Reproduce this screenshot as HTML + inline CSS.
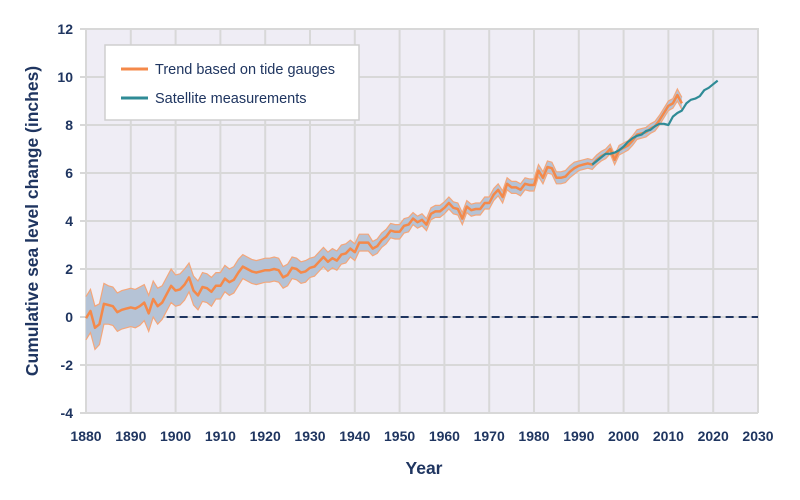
<!DOCTYPE html>
<html><head><meta charset="utf-8"><style>
body{margin:0;background:#fff;}
svg{display:block;font-family:"Liberation Sans",sans-serif;}
.tk{font-size:14px;font-weight:bold;fill:#1f3560;}
</style></head><body>
<svg id="chart" width="800" height="500" viewBox="0 0 800 500" xmlns="http://www.w3.org/2000/svg">
<rect x="86" y="28" width="672" height="385" fill="#efedf5"/>
<g id="grid"></g>
<g id="band"></g>
<line id="zero" stroke="#1f3560" stroke-width="2" stroke-dasharray="8,5"/>
<g id="series"></g>
<g id="ticks"></g>
<text transform="translate(38,221) rotate(-90)" text-anchor="middle" font-size="17.5" font-weight="bold" fill="#1f3560">Cumulative sea level change (inches)</text>
<text x="424" y="474" text-anchor="middle" font-size="17.5" font-weight="bold" fill="#1f3560">Year</text>
<g>
<rect x="105" y="45" width="254" height="75" fill="#fff" stroke="#cfcfcf" stroke-width="1.5"/>
<line x1="121" y1="69" x2="148" y2="69" stroke="#f4894a" stroke-width="3"/>
<text x="155" y="74" font-size="14.5" fill="#1f3560">Trend based on tide gauges</text>
<line x1="121" y1="98" x2="148" y2="98" stroke="#2f8b96" stroke-width="3"/>
<text x="155" y="103" font-size="14.5" fill="#1f3560">Satellite measurements</text>
</g>
</svg>
<script>
const tideStart = 1880;
const tideValues = [-0.05,0.25,-0.45,-0.3,0.55,0.5,0.45,0.2,0.3,0.35,0.4,0.35,0.45,0.6,0.15,0.75,0.45,0.6,0.95,1.3,1.1,1.15,1.35,1.65,1.1,0.9,1.25,1.2,1.05,1.3,1.3,1.6,1.45,1.55,1.85,2.1,2.0,1.9,1.85,1.9,1.95,1.95,2.0,1.95,1.65,1.75,2.05,2.0,1.85,1.9,2.05,2.1,2.3,2.5,2.3,2.45,2.35,2.6,2.65,2.85,2.7,3.1,3.1,3.1,2.85,2.95,3.2,3.35,3.6,3.55,3.55,3.8,3.85,4.1,3.95,4.05,3.85,4.3,4.4,4.4,4.55,4.75,4.55,4.5,4.1,4.6,4.45,4.5,4.5,4.75,4.75,5.1,5.3,5.0,5.55,5.4,5.4,5.3,5.55,5.5,5.5,6.1,5.8,6.25,6.2,5.8,5.8,5.85,6.05,6.2,6.3,6.35,6.4,6.35,6.55,6.7,6.8,7.0,6.55,6.95,7.05,7.15,7.35,7.6,7.65,7.7,7.85,7.95,8.2,8.5,8.8,8.9,9.25,8.9];
const tideUncertainty = [0.9,0.9,0.9,0.85,0.85,0.8,0.8,0.8,0.8,0.8,0.8,0.8,0.8,0.75,0.75,0.75,0.75,0.7,0.7,0.7,0.65,0.65,0.65,0.6,0.6,0.6,0.6,0.6,0.6,0.55,0.55,0.55,0.55,0.55,0.55,0.5,0.5,0.5,0.5,0.5,0.5,0.5,0.5,0.5,0.45,0.45,0.45,0.45,0.45,0.45,0.4,0.4,0.4,0.4,0.4,0.4,0.4,0.4,0.4,0.35,0.35,0.35,0.35,0.35,0.3,0.3,0.3,0.3,0.3,0.3,0.3,0.3,0.3,0.25,0.25,0.25,0.25,0.25,0.25,0.25,0.25,0.25,0.25,0.25,0.25,0.25,0.25,0.25,0.25,0.25,0.25,0.25,0.25,0.25,0.25,0.25,0.25,0.25,0.25,0.25,0.25,0.25,0.25,0.25,0.25,0.25,0.25,0.25,0.25,0.25,0.2,0.2,0.2,0.2,0.2,0.2,0.2,0.2,0.2,0.2,0.2,0.2,0.2,0.2,0.2,0.2,0.2,0.2,0.2,0.2,0.2,0.2,0.25,0.25,0.25,0.25];
const satStart = 1993;
const satValues = [6.35,6.5,6.65,6.8,6.8,6.85,6.95,7.1,7.3,7.45,7.55,7.6,7.75,7.8,7.95,8.05,8.05,8.0,8.35,8.5,8.6,8.9,9.05,9.1,9.2,9.45,9.55,9.7,9.85];
const xTicks = [1880,1890,1900,1910,1920,1930,1940,1950,1960,1970,1980,1990,2000,2010,2020,2030];
const yTicks = [-4,-2,0,2,4,6,8,10,12];

const NS="http://www.w3.org/2000/svg";
const X0=86,X1=758,Y0=413,Y1=29;
const x=v=>X0+(v-1880)/150*(X1-X0);
const y=v=>Y0-(v+4)/16*(Y0-Y1);
function mk(tag,attrs,parent){const e=document.createElementNS(NS,tag);for(const k in attrs)e.setAttribute(k,attrs[k]);parent.appendChild(e);return e;}
const grid=document.getElementById('grid'),ticks=document.getElementById('ticks');
xTicks.forEach(t=>{
  const l=mk('line',{x1:x(t),x2:x(t),y1:28,y2:413,stroke:'#d8d8d8','stroke-width':2},grid);
  
  
  const tx=mk('text',{x:x(t),y:441,'text-anchor':'middle',class:'tk'},ticks);
  tx.textContent=t;
  
  
});
yTicks.forEach(t=>{
  const l=mk('line',{x1:80,x2:758,y1:y(t),y2:y(t),stroke:'#d8d8d8','stroke-width':2},grid);
  
  
  const tx=mk('text',{x:73,y:y(t)+5,'text-anchor':'end',class:'tk'},ticks);
  tx.textContent=t;
  
  
});
const z=document.getElementById('zero');
z.setAttribute('x1',x(1898));z.setAttribute('x2',758);z.setAttribute('y1',y(0));z.setAttribute('y2',y(0));
const up=tideValues.map((v,i)=>[x(tideStart+i),y(v+tideUncertainty[i])]);
const lo=tideValues.map((v,i)=>[x(tideStart+i),y(v-tideUncertainty[i])]);
const band=document.getElementById('band');
const poly=mk('polygon',{points:up.concat(lo.slice().reverse()).map(p=>p.join(',')).join(' '),fill:'#b5c3d6'},band);


[up,lo].forEach(arr=>{
  const p=mk('polyline',{points:arr.map(p=>p.join(',')).join(' '),fill:'none',stroke:'#f4a67a','stroke-width':1.2},band);
  
  
});
const s=document.getElementById('series');
const tl=mk('polyline',{points:tideValues.map((v,i)=>x(tideStart+i)+','+y(v)).join(' '),fill:'none',stroke:'#f4894a','stroke-width':2.5,'stroke-linejoin':'round'},s);


const sl=mk('polyline',{points:satValues.map((v,i)=>x(satStart+i)+','+y(v)).join(' '),fill:'none',stroke:'#2f8b96','stroke-width':2.2,'stroke-linejoin':'round'},s);


</script>
</body></html>
